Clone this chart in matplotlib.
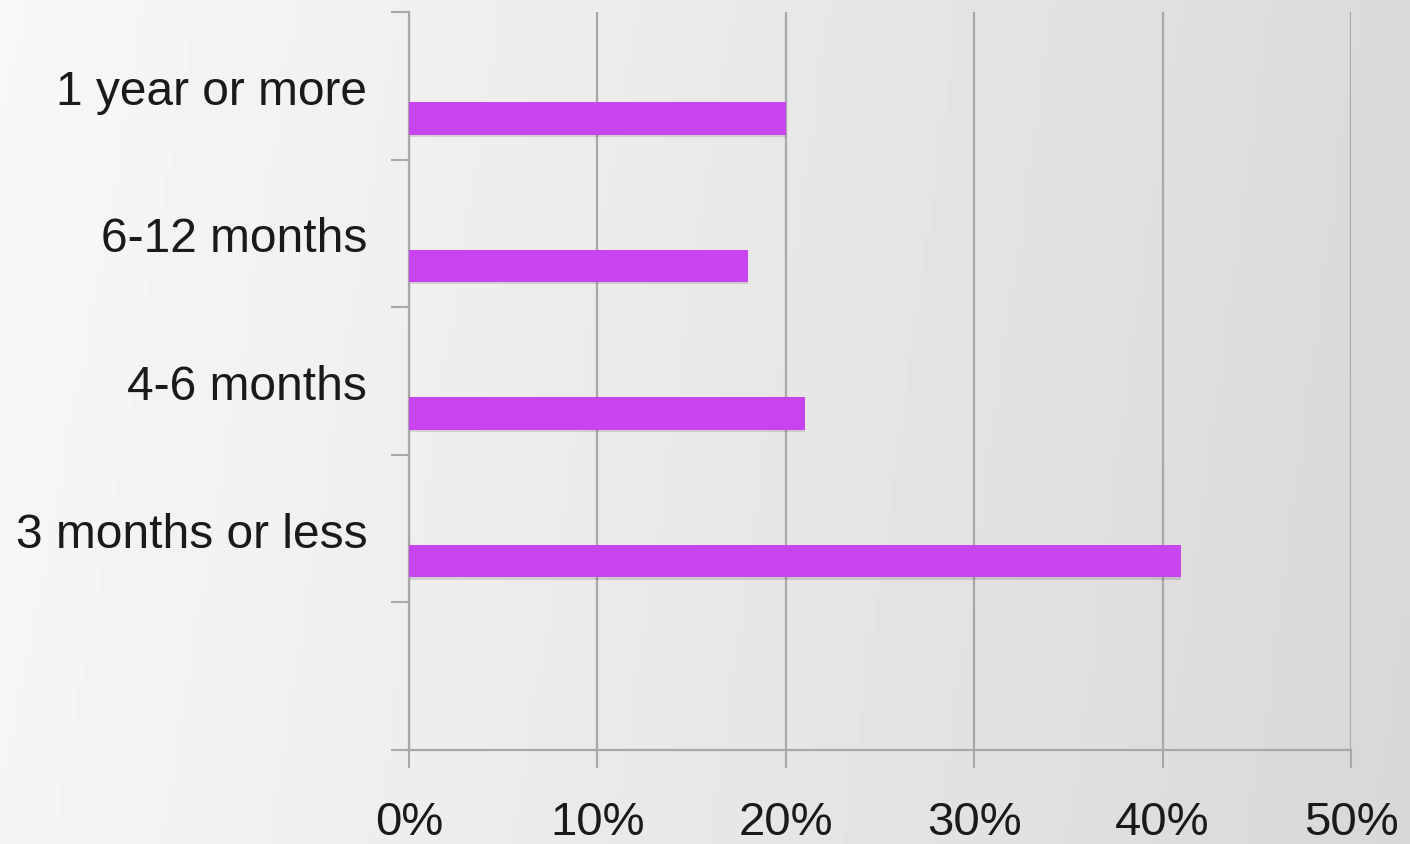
import matplotlib.pyplot as plt
import numpy as np

plt.rcParams['font.family'] = ['Liberation Sans', 'DejaVu Sans']

# data
categories = ['3 months or less', '4-6 months', '6-12 months', '1 year or more']
values = [41, 21, 18, 20]
xticks = [0, 10, 20, 30, 40, 50]
xticklabels = ['0%', '10%', '20%', '30%', '40%', '50%']

fig = plt.figure(figsize=(14.1, 8.44), dpi=100)

# gradient background
bg = fig.add_axes([0, 0, 1, 1], zorder=-10)
gx = np.linspace(0, 1, 256)
gy = np.linspace(0, 1, 64)[:, None]
grad = 0.97 - 0.115 * gx[None, :] ** 1.1 - 0.01 * gy
bg.imshow(grad, cmap='gray', vmin=0, vmax=1, aspect='auto', extent=[0, 1, 0, 1])
bg.axis('off')

ax = fig.add_axes([409 / 1410, 1 - 750 / 844, (1351 - 409) / 1410, (750 - 12) / 844])
ax.patch.set_alpha(0)

slots = np.arange(len(categories)) + 1  # slot 0 stays empty
bar_pos = slots + 0.5 - 0.22
h = 0.22
# soft shadow
ax.barh(bar_pos - 0.015, values, height=h, color='#000000', alpha=0.12, zorder=2)
ax.barh(bar_pos, values, height=h, color='#c844ef', zorder=3)

ax.set_xlim(0, 50)
ax.set_ylim(0, 5)
ax.set_xticks(xticks)
ax.set_xticklabels(xticklabels, fontsize=34, color='#1a1a1a')
ax.xaxis.grid(True, color='#a8a8a8', linewidth=1.6, zorder=1)
ax.set_axisbelow(True)
ax.tick_params(axis='x', length=13, width=1.5, color='#a8a8a8', pad=24)

ax.set_yticks(slots + 0.49)
ax.set_yticklabels(categories, fontsize=34.5, color='#1a1a1a')
ax.set_yticks(np.arange(0, 6), minor=True)
ax.tick_params(axis='y', which='major', length=0, pad=30)
ax.tick_params(axis='y', which='minor', length=13, width=1.5, color='#a8a8a8')

for s in ['top', 'right']:
    ax.spines[s].set_visible(False)
for s in ['left', 'bottom']:
    ax.spines[s].set_color('#a8a8a8')
    ax.spines[s].set_linewidth(1.6)

fig.savefig('out.png', dpi=100)
